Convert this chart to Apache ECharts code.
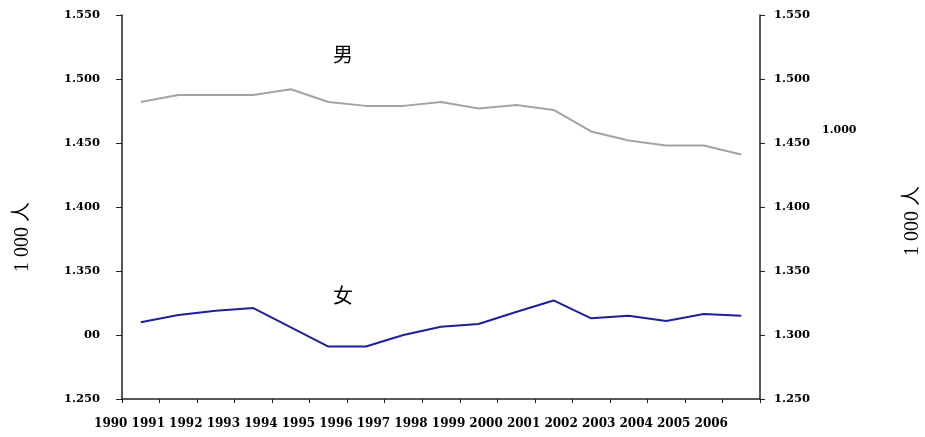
<!DOCTYPE html>
<html><head><meta charset="utf-8">
<script src="https://cdn.jsdelivr.net/npm/echarts@6/dist/echarts.min.js"></script>
<style>html,body{margin:0;padding:0;background:#fff}#c{width:925px;height:437px}</style>
</head><body><div id="c"></div>
<script>
const years = ['1990','1991','1992','1993','1994','1995','1996','1997','1998','1999','2000','2001','2002','2003','2004','2005','2006'];
const male = [1.482,1.4875,1.4875,1.4875,1.492,1.482,1.479,1.479,1.482,1.477,1.4797,1.4758,1.459,1.452,1.448,1.448,1.441];
const female = [1.310,1.3156,1.319,1.321,1.306,1.291,1.291,1.300,1.3065,1.3086,1.318,1.327,1.313,1.315,1.311,1.3164,1.315];
const leftTickLabels = {'1.250':'1.250','1.300':'00','1.350':'1.350','1.400':'1.400','1.450':'1.450','1.500':'1.500','1.550':'1.550'};
const rightTickLabels = {'1.250':'1.250','1.300':'1.300','1.350':'1.350','1.400':'1.400','1.450':'1.450','1.500':'1.500','1.550':'1.550'};
const axisTitle = '1 000 人';

const chart = echarts.init(document.getElementById('c'));
const lblFont = {fontFamily:'DejaVu Serif', fontWeight:'bold', color:'#000'};
const axLine = {show:true, lineStyle:{color:'#222', width:1.5}};
chart.setOption({
  animation:false,
  grid:{left:122, right:165, top:15, bottom:38},
  xAxis:{type:'category', data:years, boundaryGap:true,
    axisLine:axLine, axisTick:{show:true, length:4, lineStyle:{color:'#222'}},
    axisLabel:Object.assign({interval:0, fontSize:12, margin:19, padding:[0,60,0,0]}, lblFont),
    splitLine:{show:false}},
  yAxis:[
    {type:'value', min:1.25, max:1.55, interval:0.05, position:'left',
     axisLine:axLine, axisTick:{show:true, length:6, lineStyle:{color:'#222'}},
     axisLabel:Object.assign({fontSize:11.5, margin:22, formatter:v=>leftTickLabels[v.toFixed(3)]}, lblFont),
     splitLine:{show:false}},
    {type:'value', min:1.25, max:1.55, interval:0.05, position:'right',
     axisLine:axLine, axisTick:{show:true, length:5, lineStyle:{color:'#222'}},
     axisLabel:Object.assign({fontSize:11.5, margin:14, formatter:v=>rightTickLabels[v.toFixed(3)]}, lblFont),
     splitLine:{show:false}}
  ],
  series:[
    {name:'男', type:'line', data:male, symbol:'none', lineStyle:{color:'#a3a3a3', width:2}},
    {name:'女', type:'line', data:female, symbol:'none', lineStyle:{color:'#1f1f9c', width:2}}
  ],
  graphic:[
    {type:'text', x:23, y:237, rotation:Math.PI/2, style:{text:axisTitle, font:'20px "Liberation Serif", "Noto Sans CJK SC"', fill:'#000', align:'center', verticalAlign:'middle'}},
    {type:'text', x:913, y:221, rotation:Math.PI/2, style:{text:axisTitle, font:'20px "Liberation Serif", "Noto Sans CJK SC"', fill:'#000', align:'center', verticalAlign:'middle'}},
    {type:'text', left:333, top:44, style:{text:'男', font:'20px "Noto Sans CJK SC"', fill:'#000'}},
    {type:'text', left:333, top:285, style:{text:'女', font:'20px "Noto Sans CJK SC"', fill:'#000'}},
    {type:'text', left:822, top:125, style:{text:'1.000', font:'bold 11px "DejaVu Serif"', fill:'#000'}}
  ]
});
</script></body></html>
